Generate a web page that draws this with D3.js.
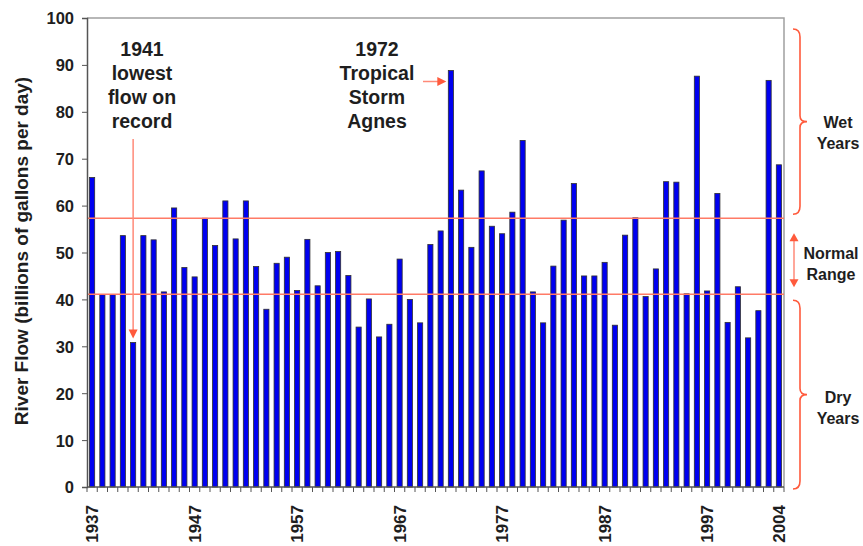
<!DOCTYPE html>
<html><head><meta charset="utf-8">
<script src="https://cdn.jsdelivr.net/npm/d3@7"></script>
<style>
html,body{margin:0;padding:0;background:#fff;}
svg{display:block;font-family:"Liberation Sans",Arial,sans-serif;}
</style></head>
<body>
<svg id="c" width="863" height="546"></svg>
<script>
const years = d3.range(1937, 2005);
const flows = [66,41,41,53.6,30.8,53.6,52.7,41.6,59.5,46.8,44.8,57.3,51.5,61,52.9,61,
  47,37.9,47.7,49,41.9,52.8,42.9,50,50.2,45.1,34.1,40.1,32,34.7,48.6,40,35,
  51.7,54.6,88.8,63.3,51.1,67.4,55.6,54,58.6,73.9,41.6,35,47.1,56.9,64.7,45,45,
  47.9,34.5,53.7,57.4,40.6,46.5,65.1,65,41.2,87.6,41.8,62.6,35.1,42.7,31.8,37.6,86.7,68.7];
const yTicks = [0,10,20,30,40,50,60,70,80,90,100];
const xLabelYears = [1937,1947,1957,1967,1977,1987,1997,2004];
const normalRange = [41.1, 57.3];
const sideLabels = [
  {lines:["Wet","Years"], lo:57.3, hi:100},
  {lines:["Normal","Range"], lo:41.1, hi:57.3},
  {lines:["Dry","Years"], lo:0, hi:41.1}
];

const svg = d3.select("#c");
const L = 87, R = 784, T = 18, B = 487;
const x = d3.scaleBand().domain(years).range([L, R]).paddingInner(0.5).paddingOuter(0.25);
const y = d3.scaleLinear().domain([0, 100]).range([B, T]);
const red = "#ff5a3c";
const ink = "#1e1e1e";

// border
svg.append("path").attr("d", `M${L},${T}H${R}V${B}`).attr("fill","none").attr("stroke","#a0a0a0").attr("stroke-width",1.5);

// bars
svg.append("g").selectAll("rect").data(years).join("rect")
  .attr("x", d => x(d)).attr("width", x.bandwidth())
  .attr("y", (d,i) => y(flows[i])).attr("height", (d,i) => B - y(flows[i]))
  .attr("fill", "#0000f0").attr("stroke", "#303030").attr("stroke-width", 0.8);

// normal range lines
svg.append("g").selectAll("line").data(normalRange).join("line")
  .attr("x1", L).attr("x2", R).attr("y1", d => y(d)).attr("y2", d => y(d))
  .attr("stroke", "#ff7a66").attr("stroke-width", 1.5);

// y axis
const yAxis = svg.append("g").attr("transform", `translate(${L},0)`)
  .call(d3.axisLeft(y).tickValues(yTicks).tickSize(5).tickPadding(8));
yAxis.select(".domain").attr("stroke","#555").attr("stroke-width",1.5);
yAxis.selectAll(".tick line").attr("stroke","#555");
yAxis.selectAll("text").attr("font-size", 16.5).attr("font-weight","bold").attr("fill",ink)
  .attr("font-family","Liberation Sans, Arial, sans-serif").attr("dy","0.36em");

// x axis: ticks at band boundaries
const xAxisG = svg.append("g").attr("transform", `translate(0,${B})`);
xAxisG.append("line").attr("x1", L).attr("x2", R).attr("stroke","#555").attr("stroke-width",1.5);
const bounds = years.map(d => x(d) - x.step()*x.paddingInner()/2).concat([R]);
xAxisG.selectAll("line.t").data(bounds).join("line").attr("class","t")
  .attr("x1", d=>d).attr("x2", d=>d).attr("y1",0).attr("y2",5).attr("stroke","#555");
xAxisG.selectAll("text").data(xLabelYears).join("text")
  .attr("transform", d => `translate(${x(d)+x.bandwidth()/2},18) rotate(-90)`)
  .attr("dy","0.36em").attr("text-anchor","end")
  .attr("font-size",17).attr("font-weight","bold").attr("fill",ink).text(d=>d);

// y axis title
svg.append("text").attr("transform","translate(28,251) rotate(-90)")
  .attr("text-anchor","middle").attr("font-size",19).attr("font-weight","bold").attr("fill",ink)
  .text("River Flow (billions of gallons per day)");

// annotations
function block(lines, cx, y0, lh, size) {
  svg.append("g").selectAll("text").data(lines).join("text")
    .attr("x", cx).attr("y", (d,i) => y0 + i*lh).attr("text-anchor","middle")
    .attr("font-size", size).attr("font-weight","bold").attr("fill",ink).text(d=>d);
}
block(["1941","lowest","flow on","record"], 142, 55.5, 24, 19.5);
block(["1972","Tropical","Storm","Agnes"], 377, 56, 24, 19.5);

const ax1 = x(1941)+x.bandwidth()/2;
svg.append("line").attr("x1",ax1).attr("x2",ax1).attr("y1",139).attr("y2",y(flows[4])-10)
  .attr("stroke","#ff8a78").attr("stroke-width",1.5);
svg.append("path").attr("d",`M${ax1-4.5},${y(flows[4])-13}L${ax1+4.5},${y(flows[4])-13}L${ax1},${y(flows[4])-4}Z`).attr("fill",red);

const ax2 = x(1972);
svg.append("line").attr("x1",423).attr("x2",ax2-6).attr("y1",81.5).attr("y2",81.5)
  .attr("stroke","#ff8a78").attr("stroke-width",1.5);
svg.append("path").attr("d",`M${ax2-11},${77}L${ax2-11},${86}L${ax2-2},${81.5}Z`).attr("fill",red);

// side braces
function brace(x0, y1, y2, w) {
  const m = (y1+y2)/2;
  return `M${x0},${y1} Q${x0+w/2},${y1} ${x0+w/2},${y1+8} L${x0+w/2},${m-6} Q${x0+w/2},${m} ${x0+w},${m} Q${x0+w/2},${m} ${x0+w/2},${m+6} L${x0+w/2},${y2-8} Q${x0+w/2},${y2} ${x0},${y2}`;
}
const bx = 793;
svg.append("path").attr("d", brace(bx, y(sideLabels[0].hi)+11, y(sideLabels[0].lo)-4, 14))
  .attr("fill","none").attr("stroke",red).attr("stroke-width",1.6);
svg.append("path").attr("d", brace(bx, y(sideLabels[2].hi)+6, y(sideLabels[2].lo)+2, 14))
  .attr("fill","none").attr("stroke",red).attr("stroke-width",1.6);
// normal range double arrow
const nTop = y(sideLabels[1].hi)+15, nBot = y(sideLabels[1].lo)-7;
svg.append("line").attr("x1",bx+1).attr("x2",bx+1).attr("y1",nTop+6).attr("y2",nBot-6)
  .attr("stroke","#ff8a78").attr("stroke-width",1.5);
svg.append("path").attr("d",`M${bx+1},${nTop}L${bx-3.5},${nTop+8}L${bx+5.5},${nTop+8}Z`).attr("fill",red);
svg.append("path").attr("d",`M${bx+1},${nBot}L${bx-3.5},${nBot-8}L${bx+5.5},${nBot-8}Z`).attr("fill",red);

const sideX = [838, 831, 838];
const sideY = [128, 259, 403];
sideLabels.forEach((s, k) => {
  svg.append("g").selectAll("text").data(s.lines).join("text")
    .attr("x", sideX[k]).attr("y", (d,i) => sideY[k] + i*20.5).attr("text-anchor","middle")
    .attr("font-size",16).attr("font-weight","bold").attr("fill",ink).text(d=>d);
});
</script>
</body></html>
